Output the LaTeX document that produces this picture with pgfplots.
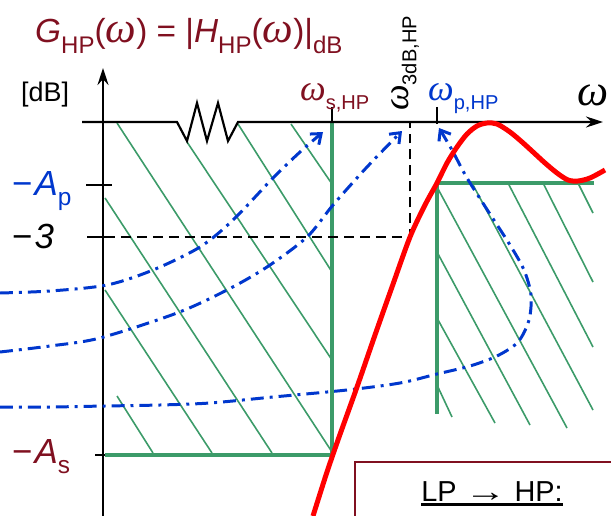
\documentclass[border=0pt]{standalone}
\usepackage{fontspec}
\setmainfont{Liberation Sans}
\newfontfamily\serif{Liberation Serif}
\usepackage{graphicx}
\usepackage{pgfplots}
\pgfplotsset{compat=1.18}
\usetikzlibrary{arrows.meta}
\definecolor{grn}{RGB}{60,155,105}
\definecolor{dred}{RGB}{128,16,32}
\definecolor{blu}{RGB}{0,55,205}
\newcommand\om{\scalebox{1.3}{\serif\itshape ω}}
\newcommand\sub[2][0.72]{\raisebox{-0.3em}{\scalebox{#1}{#2}}}
\begin{document}
\begin{tikzpicture}
\begin{axis}[width=611bp,height=516bp,scale only axis,xmin=0,xmax=611,ymin=0,ymax=516,y dir=reverse,hide axis,clip=false]
% hatching left (stopband)
\addplot[grn,line width=1.6pt] coordinates {(117,123)(332,452)};
\addplot[grn,line width=1.6pt] coordinates {(187,142)(332,360)};
\addplot[grn,line width=1.6pt] coordinates {(238,124)(332,272)};
\addplot[grn,line width=1.6pt] coordinates {(291,124)(332,184)};
\addplot[grn,line width=1.6pt] coordinates {(105,198)(272,453)};
\addplot[grn,line width=1.6pt] coordinates {(105,290)(212,453)};
\addplot[grn,line width=1.6pt] coordinates {(117,396)(153,453)};
% hatching right (passband)
\addplot[grn,line width=1.6pt] coordinates {(472,183)(593,410)};
\addplot[grn,line width=1.6pt] coordinates {(508,183)(593,347)};
\addplot[grn,line width=1.6pt] coordinates {(543,183)(593,282)};
\addplot[grn,line width=1.6pt] coordinates {(578,183)(593,213)};
\addplot[grn,line width=1.6pt] coordinates {(437,187)(567,428)};
\addplot[grn,line width=1.6pt] coordinates {(437,252)(530,425)};
\addplot[grn,line width=1.6pt] coordinates {(437,318)(495,423)};
\addplot[grn,line width=1.6pt] coordinates {(437,385)(452,417)};
% tolerance scheme
\addplot[grn,line width=4.8pt] coordinates {(332,122)(332,455)(105,455)};
\addplot[grn,line width=4.8pt] coordinates {(594,183)(437,183)(437,414)};
% -3 dB dashed
\addplot[black,line width=2.8pt,dash pattern=on 10pt off 6pt] coordinates {(105,237)(410,237)(410,122)};
% axes
\addplot[black,line width=2.2pt] coordinates {(103,516)(103,75)};
\addplot[black,line width=2.2pt,-{Stealth[length=17pt,width=11pt]}] coordinates {(103,100)(103,68)};
\addplot[black,line width=2.2pt,-{Stealth[length=17pt,width=11pt]}] coordinates {(82,122)(177,122)(187,141)(197,103)(207,141)(218,103)(228,141)(238,122)(603,122)};
% ticks
\addplot[black,line width=2.2pt] coordinates {(86,185)(112,185)};
\addplot[black,line width=2.2pt] coordinates {(87,237)(114,237)};
\addplot[black,line width=2.2pt] coordinates {(95,455)(105,455)};
\addplot[black,line width=2.2pt] coordinates {(332,107)(332,122)};
\addplot[black,line width=2.2pt] coordinates {(437,107)(437,124)};
% blue mapping curves
\addplot[blu,line width=3pt,dash pattern=on 13pt off 6pt on 3pt off 6pt,smooth,-{Straight Barb[length=9pt,width=14pt]}] coordinates {(0,407)(50,407)(105,406)(160,405)(210,403)(273,397)(347,390)(400,383)(437,374)(470,366)(497,356)(518,342)(529,320)(531,295)(524,270)(510,245)(488,211)(467,178)(452,150)(439,128)};
\addplot[blu,line width=3pt,dash pattern=on 13pt off 6pt on 3pt off 6pt,smooth,-{Straight Barb[length=9pt,width=14pt]}] coordinates {(0,352)(50,346)(100,338)(177,313)(227,290)(267,267)(307,237)(333,205)(367,167)(402,131)};
\addplot[blu,line width=3pt,dash pattern=on 13pt off 6pt on 3pt off 6pt,smooth,-{Straight Barb[length=9pt,width=14pt]}] coordinates {(0,293)(50,291)(107,285)(153,270)(200,247)(233,220)(273,178)(300,152)(323,132)};
% red response
\addplot[red,line width=5pt,smooth] coordinates {(313,516)(326,475)(338,440)(357,387)(375,335)(392,287)(410,237)(425,205)(437,183)(447,163)(457,147)(467,134)(477,126)(487,123)(497,124)(510,132)(522,142)(533,152)(545,163)(557,173)(568,180)(578,181)(590,178)(605,170)};
% box
\addplot[dred,line width=1.6pt] coordinates {(611,462)(355,462)(355,516)};
% texts
\node[dred,anchor=base west,font=\fontsize{33.5}{33.5}\selectfont,inner sep=0pt] at (35,43) {{\itshape G}\sub{HP}(\om) = |{\itshape H}\sub{HP}(\om)|\sub{dB}};
\node[black,anchor=base west,font=\fontsize{27}{27}\selectfont,inner sep=0pt] at (21,102) {[dB]};
\node[blu,anchor=base west,font=\fontsize{35}{35}\selectfont,inner sep=0pt] at (12,195) {−\kern2bp{\itshape A}\sub[0.7]{p}};
\node[black,anchor=base west,font=\fontsize{35}{35}\selectfont,inner sep=0pt] at (12,248) {−\kern2bp{\itshape 3}};
\node[dred,anchor=base west,font=\fontsize{35}{35}\selectfont,inner sep=0pt] at (12,463) {−\kern2bp{\itshape A}\sub[0.7]{s}};
\node[dred,anchor=base west,font=\fontsize{28}{28}\selectfont,inner sep=0pt] at (300,101) {\om\sub{s,HP}};
\node[blu,anchor=base west,font=\fontsize{28}{28}\selectfont,inner sep=0pt] at (428,101) {\om\sub{p,HP}};
\node[black,anchor=base west,font=\fontsize{34}{34}\selectfont,inner sep=0pt] at (577,106) {\om};
\node[black,rotate=90,anchor=base west,font=\fontsize{28}{28}\selectfont,inner sep=0pt] at (408,111) {\om\sub{3dB,HP}};
\node[black,anchor=base,font=\fontsize{29}{29}\selectfont,inner sep=0pt] at (492,501) {\setbox0\hbox{LP \scalebox{1.45}[1]{→} HP:}\rlap{\rule[-5bp]{\wd0}{2.8bp}}\box0};
\end{axis}
\pgfresetboundingbox
\path[use as bounding box] (current axis.south west) rectangle (current axis.north east);
\end{tikzpicture}
\end{document}
